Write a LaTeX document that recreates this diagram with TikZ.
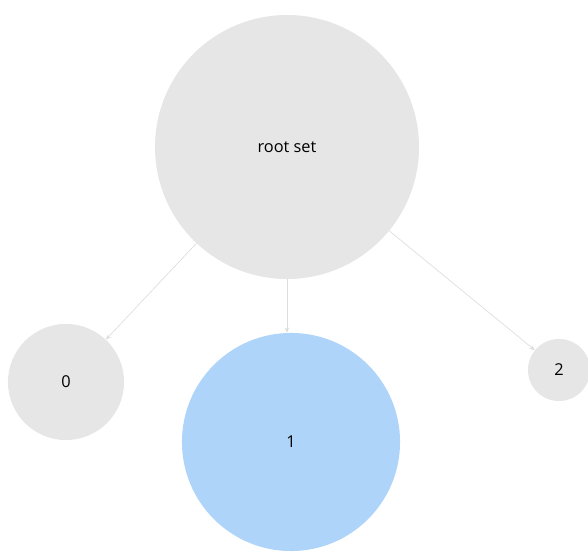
\documentclass[tikz,border=0pt]{standalone}
\usepackage{fontspec}
\setmainfont{Open Sans}
\usetikzlibrary{arrows.meta}
\definecolor{gris}{RGB}{230,230,230}
\definecolor{bleu}{RGB}{174,212,250}
\definecolor{fleche}{RGB}{220,220,220}
\begin{document}
\begin{tikzpicture}[
  ensemble/.style={circle, fill=gris, inner sep=0pt, font=\fontsize{15.5}{18}\selectfont},
  lien/.style={draw=fleche, line width=0.6pt, -{Stealth[length=5pt, width=4pt]}}]
\useasboundingbox (0,0) rectangle (19.6,-18.37); % Pour la bounding box

\node [ensemble, minimum size=8.8cm] (root) at (9.567,-4.9) {root set};
\node [ensemble, minimum size=3.87cm] (n0) at (2.2,-12.733) {0};
\node [ensemble, fill=bleu, minimum size=7.27cm] (n1) at (9.7,-14.733) {1};
\node [ensemble, minimum size=2.07cm] (n2) at (18.633,-12.333) {2};

\draw [lien] (root) -- (n0);
\draw [lien] (root.south) -- (root.south |- n1.north);
\draw [lien] (root) -- (n2);
\end{tikzpicture}
\end{document}
